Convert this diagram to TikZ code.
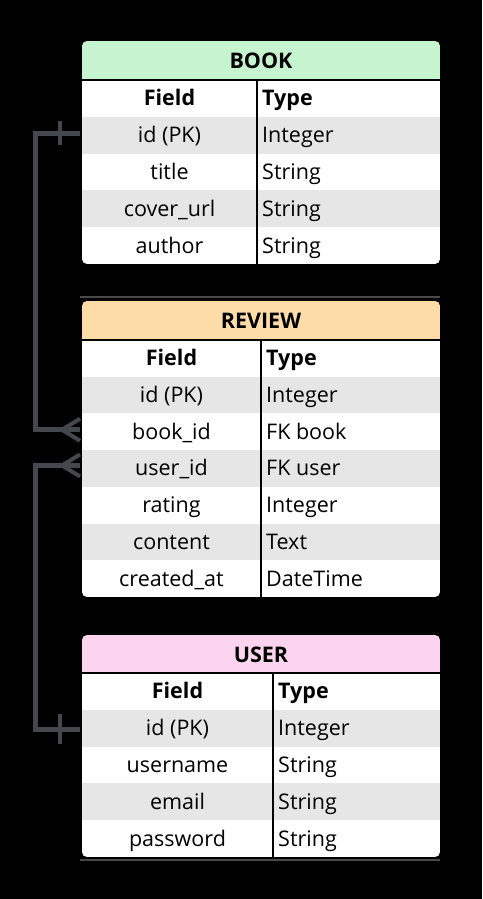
\documentclass[tikz,border=0pt]{standalone}
\usepackage{fontspec}
\setmainfont{Open Sans}
\usetikzlibrary{calc}
\definecolor{bookhd}{HTML}{C6F4CF}
\definecolor{revhd}{HTML}{FDDCA7}
\definecolor{userhd}{HTML}{FCD4F0}
\definecolor{rowgray}{HTML}{E6E6E6}
\definecolor{linkgray}{HTML}{45474F}
\definecolor{shadowgray}{HTML}{4A4A4A}
\tikzset{
  rowbox/.style={anchor=north west, minimum width=358pt, inner sep=0pt, outer sep=0pt, draw=none},
  hdbox/.style={anchor=north west, minimum width=358pt, inner sep=0pt, outer sep=0pt, draw=none},
  fieldtxt/.style={anchor=base, inner sep=0pt},
  typetxt/.style={anchor=base west, inner sep=0pt},
  titletxt/.style={anchor=base, inner sep=0pt, font=\fontsize{21.5}{25}\selectfont\bfseries},
  sepline/.style={line width=2.6pt, black},
  link/.style={line width=5pt, linkgray},
  linkmark/.style={line width=4pt, linkgray},
}
% #1 name, #2 top y, #3 height, #4 fill, #5 field, #6 type, #7 divider x
\newcommand\tabrow[7]{%
  \node[rowbox, fill=#4, minimum height=#3pt] (#1) at (82,#2) {};
  \node[fieldtxt] (#1-f) at ({(82+#7)/2},{#2+#3/2+7.5}) {#5};
  \node[typetxt] (#1-t) at ({#7+5},{#2+#3/2+7.5}) {#6};
}
\begin{document}
\begin{tikzpicture}[x=1pt,y=-1pt,font=\fontsize{21.5}{25}\selectfont]
\fill[black] (0,0) rectangle (482,899);
\useasboundingbox (0,0) rectangle (482,899);

% faint shadow lines
\draw[shadowgray, line width=1.2pt] (80,297) -- (440,297);
\draw[shadowgray, line width=1.2pt] (80,860) -- (440,860);

% ---------- BOOK ----------
\begin{scope}
\clip[rounded corners=5pt] (82,41) rectangle (440,264);
\node[hdbox, fill=bookhd, minimum height=39pt] (bookhd) at (82,41) {};
\node[titletxt] (booktitle) at (261,68) {BOOK};
\tabrow{bookfield}{80}{36.8}{white}{\textbf{Field}}{\textbf{Type}}{257}
\tabrow{bookid}{116.8}{36.8}{rowgray}{id (PK)}{Integer}{257}
\tabrow{booktitle2}{153.6}{36.8}{white}{title}{String}{257}
\tabrow{bookcover}{190.4}{36.8}{rowgray}{cover\_url}{String}{257}
\tabrow{bookauthor}{227.2}{36.8}{white}{author}{String}{257}
\draw[sepline] (82,80) -- (440,80);
\draw[sepline] (257,80) -- (257,264);
\end{scope}

% ---------- REVIEW ----------
\begin{scope}
\clip[rounded corners=5pt] (82,301) rectangle (440,597);
\node[hdbox, fill=revhd, minimum height=39pt] (revhd) at (82,301) {};
\node[titletxt] (revtitle) at (261,328) {REVIEW};
\tabrow{revfield}{340}{36.7}{white}{\textbf{Field}}{\textbf{Type}}{261}
\tabrow{revid}{376.7}{36.7}{rowgray}{id (PK)}{Integer}{261}
\tabrow{revbook}{413.4}{36.7}{white}{book\_id}{FK book}{261}
\tabrow{revuser}{450.1}{36.7}{rowgray}{user\_id}{FK user}{261}
\tabrow{revrating}{486.8}{36.7}{white}{rating}{Integer}{261}
\tabrow{revcontent}{523.5}{36.7}{rowgray}{content}{Text}{261}
\tabrow{revcreated}{560.2}{36.8}{white}{created\_at}{DateTime}{261}
\draw[sepline] (82,340) -- (440,340);
\draw[sepline] (261,340) -- (261,597);
\end{scope}

% ---------- USER ----------
\begin{scope}
\clip[rounded corners=5pt] (82,635) rectangle (440,857);
\node[hdbox, fill=userhd, minimum height=38pt] (userhd) at (82,635) {};
\node[titletxt] (usertitle) at (261,662) {USER};
\tabrow{userfield}{673}{36.8}{white}{\textbf{Field}}{\textbf{Type}}{273}
\tabrow{userid}{709.8}{36.8}{rowgray}{id (PK)}{Integer}{273}
\tabrow{username}{746.6}{36.8}{white}{username}{String}{273}
\tabrow{useremail}{783.4}{36.8}{rowgray}{email}{String}{273}
\tabrow{userpass}{820.2}{36.6}{white}{password}{String}{273}
\draw[sepline] (82,673) -- (440,673);
\draw[sepline] (273,673) -- (273,857);
\end{scope}

% ---------- connectors ----------
% BOOK.id (one) -> REVIEW.book_id (many)
\draw[link, line join=miter] ($(bookid.west)+(-2,-2)$) -- ++(-45,0) |- ($(revbook.west)+(-2,-2)$);
\draw[linkmark] ($(bookid.west)+(-22,-14)$) -- ++(0,24);
\draw[linkmark] ($(revbook.west)+(-20,-2)$) -- ($(revbook.west)+(-2,-13)$);
\draw[linkmark] ($(revbook.west)+(-20,-2)$) -- ($(revbook.west)+(-2,9)$);

% REVIEW.user_id (many) -> USER.id (one)
\draw[link, line join=miter] ($(revuser.west)+(-2,-3)$) -- ++(-45,0) |- ($(userid.west)+(-2,1)$);
\draw[linkmark] ($(revuser.west)+(-20,-3)$) -- ($(revuser.west)+(-2,-14)$);
\draw[linkmark] ($(revuser.west)+(-20,-3)$) -- ($(revuser.west)+(-2,8)$);
\draw[linkmark] ($(userid.west)+(-22,-14)$) -- ++(0,30);
\end{tikzpicture}
\end{document}
